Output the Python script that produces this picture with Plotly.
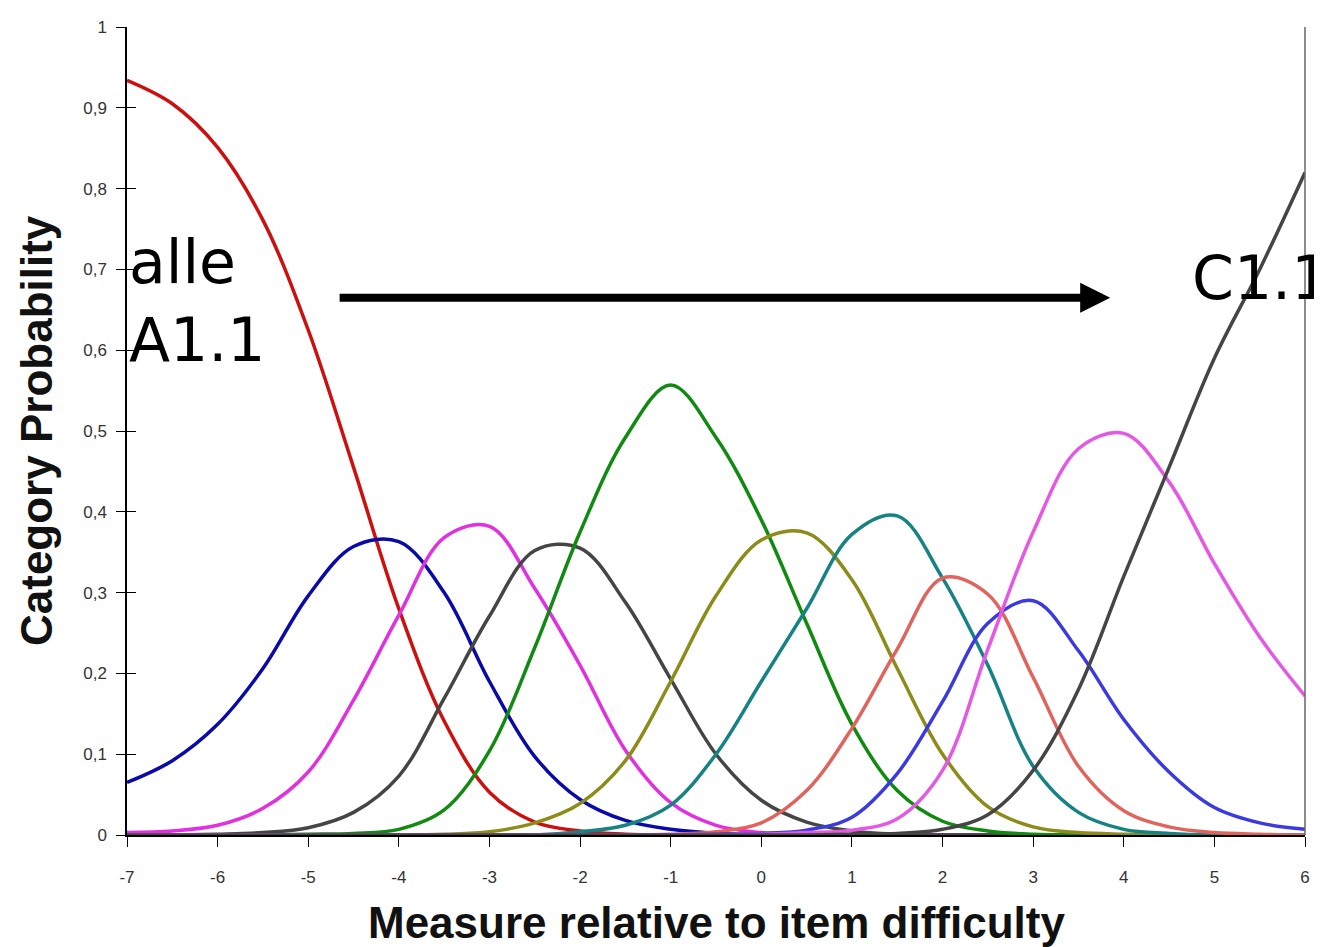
import plotly.graph_objects as go

measure = [-7, -6.5, -6, -5.5, -5, -4.5, -4, -3.5, -3, -2.5, -2, -1.5, -1, -0.5,
           0, 0.5, 1, 1.5, 2, 2.5, 3, 3.5, 4, 4.5, 5, 5.5, 6]

# category probability curves, one list per category
cat_0 = [0.934, 0.905, 0.851, 0.761, 0.625, 0.455, 0.280, 0.141, 0.053, 0.016, 0.005, 0.001, 0, 0,
         0, 0, 0, 0, 0, 0, 0, 0, 0, 0, 0, 0, 0]
cat_1 = [0.065, 0.092, 0.137, 0.206, 0.296, 0.357, 0.363, 0.300, 0.190, 0.097, 0.044, 0.018, 0.007, 0.002,
         0, 0, 0, 0, 0, 0, 0, 0, 0, 0, 0, 0, 0]
cat_2 = [0.003, 0.005, 0.012, 0.033, 0.078, 0.167, 0.272, 0.368, 0.382, 0.305, 0.210, 0.105, 0.040, 0.012,
         0.003, 0.001, 0, 0, 0, 0, 0, 0, 0, 0, 0, 0, 0]
cat_3 = [0, 0, 0.001, 0.003, 0.009, 0.028, 0.073, 0.169, 0.271, 0.352, 0.355, 0.288, 0.193, 0.100,
         0.043, 0.016, 0.005, 0.001, 0, 0, 0, 0, 0, 0, 0, 0, 0]
cat_4 = [0, 0, 0, 0, 0.001, 0.002, 0.007, 0.031, 0.104, 0.232, 0.375, 0.492, 0.557, 0.492,
         0.390, 0.262, 0.137, 0.055, 0.017, 0.005, 0.001, 0, 0, 0, 0, 0, 0]
cat_5 = [0, 0, 0, 0, 0, 0, 0, 0.001, 0.004, 0.015, 0.039, 0.092, 0.190, 0.296,
         0.365, 0.374, 0.316, 0.206, 0.100, 0.035, 0.010, 0.003, 0.001, 0, 0, 0, 0]
cat_6 = [0, 0, 0, 0, 0, 0, 0, 0, 0, 0, 0.004, 0.012, 0.037, 0.100,
         0.190, 0.280, 0.372, 0.395, 0.318, 0.210, 0.085, 0.028, 0.007, 0.002, 0, 0, 0]
cat_7 = [0, 0, 0, 0, 0, 0, 0, 0, 0, 0, 0, 0, 0.001, 0.004,
         0.015, 0.055, 0.132, 0.230, 0.318, 0.298, 0.195, 0.085, 0.030, 0.010, 0.003, 0.001, 0]
cat_8 = [0, 0, 0, 0, 0, 0, 0, 0, 0, 0, 0, 0, 0, 0.001,
         0.002, 0.006, 0.022, 0.076, 0.165, 0.262, 0.290, 0.228, 0.143, 0.078, 0.034, 0.015, 0.007]
cat_9 = [0, 0, 0, 0, 0, 0, 0, 0, 0, 0, 0, 0, 0, 0,
         0.001, 0.003, 0.006, 0.020, 0.080, 0.230, 0.375, 0.478, 0.497, 0.437, 0.336, 0.245, 0.172]
cat_10 = [0, 0, 0, 0, 0, 0, 0, 0, 0, 0, 0, 0, 0, 0,
          0, 0, 0.001, 0.002, 0.007, 0.025, 0.080, 0.180, 0.320, 0.455, 0.590, 0.700, 0.820]
# empty categories lying on the baseline
cat_empty = [0] * 27

curves = [cat_0, cat_1, cat_2, cat_3, cat_4, cat_5, cat_6, cat_7, cat_8, cat_9, cat_10]
colors = ["#cc1010", "#0a0aa8", "#e030e0", "#454545", "#108a10", "#8c8c1a",
          "#168282", "#e0645c", "#3a3ae0", "#e458e4", "#454545"]

y_ticks = [0, 0.1, 0.2, 0.3, 0.4, 0.5, 0.6, 0.7, 0.8, 0.9, 1]
y_tick_text = ["0", "0,1", "0,2", "0,3", "0,4", "0,5", "0,6", "0,7", "0,8", "0,9", "1"]
x_ticks = [-7, -6, -5, -4, -3, -2, -1, 0, 1, 2, 3, 4, 5, 6]
x_tick_text = ["-7", "-6", "-5", "-4", "-3", "-2", "-1", "0", "1", "2", "3", "4", "5", "6"]

fig = go.Figure()

fig.add_trace(go.Scatter(x=measure, y=cat_empty, mode="lines",
                         line=dict(color="#8b1010", width=3), showlegend=False))
for values, color in zip(curves, colors):
    fig.add_trace(go.Scatter(x=measure, y=values, mode="lines",
                             line=dict(color=color, width=3.5, shape="spline", smoothing=1),
                             showlegend=False))

# dummy trace so the second y axis (inner tick marks) gets drawn
fig.add_trace(go.Scatter(x=[], y=[], yaxis="y2", showlegend=False))

tick_font = dict(family="Liberation Sans, Arial", size=17, color="#333333")
title_font = dict(family="Liberation Sans, Arial", size=44, color="#111111", weight="bold")
label_font = dict(family="DejaVu Sans", size=60, color="#000000")

# page body has an 8px margin, so the figure is a bit smaller than the window
fig.update_layout(
    width=1314,
    height=939,
    margin=dict(l=119, r=17, t=10, b=112),
    paper_bgcolor="white",
    plot_bgcolor="white",
    xaxis=dict(range=[-7, 6], tickvals=x_ticks, ticktext=x_tick_text, ticks="outside",
               ticklen=10, tickcolor="black", showline=True, linecolor="black",
               linewidth=1.5, showgrid=False, zeroline=False, tickfont=tick_font,
               ticklabelstandoff=16, layer="below traces"),
    yaxis=dict(range=[0, 1], tickvals=y_ticks, ticktext=y_tick_text, ticks="outside",
               ticklen=9, tickcolor="black", showline=True, linecolor="black",
               linewidth=1.5, showgrid=False, zeroline=False, tickfont=tick_font,
               ticklabelstandoff=6, layer="below traces"),
    yaxis2=dict(range=[0, 1], overlaying="y", side="left", tickvals=y_ticks,
                ticks="inside", ticklen=9, tickcolor="black", showticklabels=False,
                showgrid=False, zeroline=False, showline=False),
)

# right frame line
fig.add_shape(type="line", xref="paper", yref="paper", x0=1, x1=1, y0=0, y1=1,
              line=dict(color="#666666", width=1.5))

# axis titles
fig.add_annotation(text="Category Probability", xref="paper", yref="paper", x=0, y=0.5,
                   xanchor="center", yanchor="middle", xshift=-91, textangle=-90,
                   showarrow=False, font=title_font)
fig.add_annotation(text="Measure relative to item difficulty", xref="paper", yref="paper",
                   x=0.5, y=0, xanchor="center", yanchor="middle", yshift=-87,
                   showarrow=False, font=title_font)

# labels and arrow
fig.add_annotation(text="alle<br>A1.1", x=-7.0, y=0.661, xanchor="left", yanchor="middle",
                   align="left", showarrow=False, font=label_font)
fig.add_annotation(text="C1.1", x=4.73, y=0.689, xanchor="left", yanchor="middle",
                   showarrow=False, font=label_font)
fig.add_annotation(x=3.85, y=0.665, ax=-4.67, ay=0.665, axref="x", ayref="y", text="",
                   showarrow=True, arrowhead=2, arrowsize=0.75, arrowwidth=8,
                   arrowcolor="black")

fig.write_html("out.html")
